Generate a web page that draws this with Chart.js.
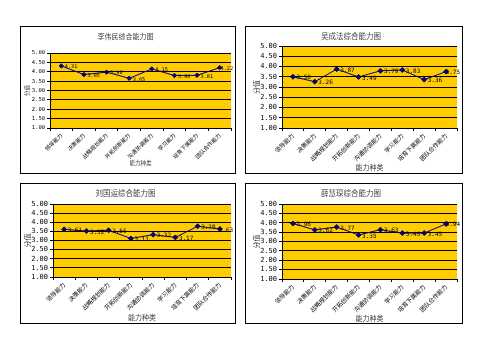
<!DOCTYPE html>
<html><head><meta charset="utf-8">
<script src="https://cdn.jsdelivr.net/npm/chart.js@4"></script>
<style>
html,body{margin:0;padding:0;background:#fff;width:503px;height:356px;overflow:hidden;position:relative}
.box{position:absolute;border:1px solid #000;box-sizing:border-box;pointer-events:none}
canvas{position:absolute}
</style></head><body>
<script>
// ---- data ----
const categories = ['领导能力','决策能力','战略规划能力','开拓创新能力','沟通协调能力','学习能力','培育下属能力','团队合作能力'];
const liWeiminScores  = [4.31, 3.85, 3.98, 3.65, 4.15, 3.80, 3.81, 4.22];
const wuChengfaScores = [3.50, 3.26, 3.87, 3.49, 3.79, 3.83, 3.36, 3.75];
const liuGuoyunScores = [3.61, 3.52, 3.56, 3.11, 3.32, 3.17, 3.78, 3.63];
const xueHuichenScores = [3.96, 3.62, 3.77, 3.35, 3.63, 3.45, 3.45, 3.94];
const chartTitles = ['李伟民综合能力图','吴成法综合能力图','刘国运综合能力图','薛慧琛综合能力图'];
const xAxisTitle = '能力种类';
const yAxisTitle = '分值';
const yTickValues = [1.00, 1.50, 2.00, 2.50, 3.00, 3.50, 4.00, 4.50, 5.00];

// ---- layout / style ----
const CJK = '"Noto Sans CJK SC", sans-serif';
const MONO = '"DejaVu Sans Mono", monospace';
const panels = [
  {x:20,  y:26,  w:216, h:148, l:30, r:211, t:27, b:102, tick:5.5, cat:5.5, ttl:7,   axt:5.5, lab:5.2, titleY:10, xTitleY:137, yTitleX:7, pr:2.2},
  {x:245, y:26,  w:218, h:148, l:37, r:212, t:20, b:102, tick:7, cat:6,   ttl:7.5, axt:7,   lab:6, titleY:10, xTitleY:141, yTitleX:11, pr:2.5},
  {x:20,  y:183, w:216, h:141, l:33, r:211, t:21, b:94,  tick:7, cat:6,   ttl:7.5, axt:7,   lab:6, titleY:10, xTitleY:134, yTitleX:7, pr:2.5},
  {x:245, y:183, w:218, h:141, l:37, r:212, t:21, b:96,  tick:7, cat:6,   ttl:7.5, axt:7,   lab:6, titleY:10, xTitleY:135, yTitleX:11, pr:2.5}
];
const seriesList = [liWeiminScores, wuChengfaScores, liuGuoyunScores, xueHuichenScores];

const bgPlugin = {
  id:'bg',
  beforeDraw(chart){
    const {ctx, chartArea:a} = chart;
    ctx.save();
    ctx.fillStyle = '#fff';
    ctx.fillRect(0,0,chart.width,chart.height);
    ctx.fillStyle = '#FFCC00';
    ctx.fillRect(a.left, a.top, a.right-a.left, a.bottom-a.top);
    ctx.restore();
  }
};
const labelPlugin = {
  id:'vlabels',
  afterDatasetsDraw(chart, args, opts){
    const {ctx} = chart;
    const meta = chart.getDatasetMeta(0);
    const vals = chart.data.datasets[0].data;
    ctx.save();
    ctx.fillStyle = '#000';
    ctx.font = opts.size + 'px ' + MONO;
    ctx.textAlign = 'left';
    ctx.textBaseline = 'middle';
    meta.data.forEach((pt,i)=>{
      const txt = Number(vals[i]).toFixed(2);
      const tw = ctx.measureText(txt).width;
      const x = Math.min(pt.x + 3.5, chart.width - 3 - tw);
      ctx.fillText(txt, x, pt.y + 1);
    });
    ctx.restore();
  }
};

panels.forEach((p, idx) => {
  const cv = document.createElement('canvas');
  cv.width = p.w; cv.height = p.h;
  cv.style.left = p.x + 'px'; cv.style.top = p.y + 'px';
  cv.style.width = p.w + 'px'; cv.style.height = p.h + 'px';
  document.body.appendChild(cv);
  const box = document.createElement('div');
  box.className = 'box';
  box.style.left = p.x + 'px'; box.style.top = p.y + 'px';
  box.style.width = p.w + 'px'; box.style.height = p.h + 'px';
  document.body.appendChild(box);

  const ttlLH = p.ttl * 1.2, axtLH = p.axt * 1.2;
  new Chart(cv, {
    type:'line',
    data:{labels:categories, datasets:[{
      data:seriesList[idx], borderColor:'#000080', borderWidth:1,
      pointStyle:'rectRot', pointRadius:p.pr, pointBackgroundColor:'#000080', pointBorderColor:'#000080',
      tension:0, fill:false
    }]},
    options:{
      responsive:false, animation:false, devicePixelRatio:1,
      layout:{padding:{left:0, right:p.w - p.r, top:0, bottom:0}},
      plugins:{
        legend:{display:false}, tooltip:{enabled:false},
        title:{display:true, text:chartTitles[idx], color:'#404040',
          font:{family:CJK, size:p.ttl, weight:'normal', lineHeight:1.2},
          padding:{top:p.titleY - ttlLH/2, bottom:p.t - (p.titleY + ttlLH/2)}},
        vlabels:{size:p.lab}
      },
      scales:{
        x:{
          type:'category', offset:true,
          grid:{display:true, drawOnChartArea:false, drawTicks:true, tickLength:3, color:'#000', offset:true},
          border:{display:true, color:'#000', width:1},
          ticks:{autoSkip:false, maxRotation:45, minRotation:45, color:'#000', padding:1,
            font:{family:CJK, size:p.cat, lineHeight:1.2}},
          title:{display:true, text:xAxisTitle, color:'#404040',
            font:{family:CJK, size:p.axt, lineHeight:1.2},
            padding:{top:0, bottom:p.h - p.xTitleY - axtLH/2}},
          afterFit(s){ s.height = p.h - p.b; }
        },
        y:{
          min:yTickValues[0], max:yTickValues[yTickValues.length-1],
          afterBuildTicks(s){ s.ticks = yTickValues.map(v=>({value:v})); },
          ticks:{autoSkip:false, callback:v=>Number(v).toFixed(2), color:'#000', padding:2,
            font:{family:MONO, size:p.tick, lineHeight:1.2}},
          grid:{color:'#000', lineWidth:1, drawTicks:true, tickLength:3},
          border:{display:true, color:'#000', width:1},
          title:{display:true, text:yAxisTitle, color:'#404040',
            font:{family:CJK, size:p.axt, lineHeight:1.2},
            padding:{top:p.yTitleX - axtLH/2, bottom:0}},
          afterFit(s){ s.width = p.l; }
        }
      }
    },
    plugins:[bgPlugin, labelPlugin]
  });
});
</script>
</body></html>
